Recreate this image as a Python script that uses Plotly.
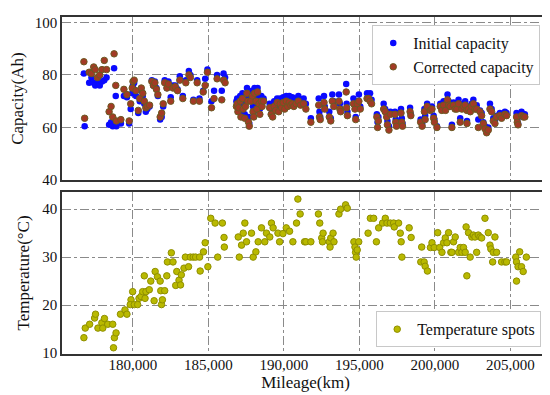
import plotly.graph_objects as go
from plotly.subplots import make_subplots

# ---- Capacity data (mileage km, initial Ah, corrected Ah) ----
cap_mileage = [
    176750, 176800, 177100, 177250, 177400, 177500, 177650, 177800, 177950, 178100,
    178250, 178420, 178550, 178660, 178750, 178860, 178900,
    179200, 179400, 179600, 179750, 179850, 179950, 180000, 180080, 180200, 180350,
    180450, 180550, 180650, 180750, 180850, 180950, 181100, 181250, 181350, 181450,
    181550, 181650, 181800, 181900, 182000, 182100, 182250, 182350, 182500, 182650,
    182800, 182950, 183100, 183300, 183500, 183700, 183800, 184000, 184250, 184400,
    184650, 184780, 184930, 185200, 185370, 185570, 185880, 186000, 186100,
    186850, 186900, 186950, 187000, 187100, 187150, 187250, 187300, 187400, 187450,
    187550, 187600, 187650, 187700, 187800, 187900, 187950, 188000, 188050, 188150,
    188200, 188250, 188350, 188400, 188500, 188550, 188650,
    189050, 189150, 189250, 189350, 189450, 189550, 189650, 189750, 189850, 189950,
    190050, 190150, 190250, 190350, 190450, 190550, 190650, 190800, 190950, 191100, 191300,
    191450, 191780, 192300, 192350, 192400, 192650, 192700, 193000, 193100, 193200,
    193300, 193640, 193700, 193750, 194120, 194150, 194200, 194600, 194700, 194750,
    194850, 194960, 195050, 195500, 195600, 195700, 195800, 196150, 196200, 196250,
    196600, 196700, 196800, 196850, 196950, 197050, 197350, 197400, 197450, 197750,
    197800, 197850, 198350, 198400, 199050, 199150, 199300, 199350,
    199480, 199690, 199800, 199910, 199960, 200130, 200350, 200450, 200570, 200700,
    200830, 200900, 201000, 201120, 201230, 201330, 201450, 201560, 201670, 201780,
    201890, 202000, 202110, 202120, 202230, 202340, 202430, 202540, 202650, 202760,
    202870, 202980, 203090, 203200, 203310, 203420, 203530, 203640, 203750, 203860,
    203970, 204080, 204300, 204410, 204630, 204740, 205400, 205450, 205500, 205730,
    205840, 205950,
]
cap_initial = [
    80.5, 60.5, 77, 79, 77, 76, 78, 76, 77.5, 78,
    79, 61, 62, 60.5, 82.5, 72, 60.5,
    61.5, 72, 71.5, 61.5, 67, 73, 76, 77, 72, 65.5,
    70, 74, 72, 69, 66, 67, 68, 78, 76, 77.5,
    75, 72, 63, 64, 68, 78, 75, 77.5, 71.5, 76,
    76, 74.5, 79.5, 72, 78, 81.5, 80, 70.5, 78, 71,
    74, 78.5, 82, 70, 74, 80, 74, 80.5, 79,
    70, 71, 68, 69, 72, 66, 73, 69, 65, 70,
    75, 71, 64, 61.5, 72, 74, 68, 66, 75, 72,
    69, 75, 71, 67, 72, 70, 71,
    69, 67, 66, 70, 68, 71, 68, 71, 69, 71.5,
    69, 72, 70, 72, 70, 71.5, 70, 71, 72, 70.5, 71,
    69, 63.5, 71, 66, 64, 72, 68, 66, 63.5, 72.5,
    70, 72.5, 69, 67, 76.5, 69, 66, 71, 68.5, 64,
    70, 72.5, 68, 73, 72.5, 73, 70.5, 65, 62, 64,
    69, 67, 66, 62.5, 60.5, 66, 66, 63, 61.5, 67,
    63.5, 61.5, 67.5, 65, 63, 61.5, 67, 64.5,
    69, 67.5, 68, 64.5, 63, 60.5, 69, 67.5, 70, 67.5,
    72.5, 70, 69, 61, 69.5, 68, 68, 70.5, 63.5, 68,
    69, 70, 67.5, 62.5, 68, 67, 69, 70.5, 68, 68.5,
    63, 66.5, 65.5, 62, 60.5, 58.5, 60, 69, 67, 63.5,
    62.5, 64.5, 65.5, 64.5, 66, 65.5, 65.5, 63, 61.5, 66,
    65, 65,
]
cap_corrected = [
    85, 63.5, 81, 80.5, 83, 82, 79, 80, 82, 85.5,
    82, 66, 68, 64, 88, 76, 62.5,
    63, 74.5, 72.5, 62.5, 69, 75, 77.5, 78, 74, 66.5,
    71, 75, 73, 70, 67.5, 68, 68.5, 77.5, 76, 77,
    74.5, 72.5, 64, 65.5, 69, 77, 75, 76.5, 70, 75,
    75.5, 74, 78, 71, 77, 80, 79, 70, 77, 70,
    73.5, 76, 81, 67.5, 71, 78.5, 70.5, 78, 77,
    68, 69, 66, 67.5, 70, 64, 71, 67, 63.5, 68,
    73, 70, 62, 60.5, 70, 72, 66, 64, 73, 70,
    67, 73.5, 69, 65, 70, 68, 70,
    67.5, 65, 64, 68, 66.5, 69.5, 66, 69, 67.5, 69.5,
    67, 70, 68, 69.5, 68.5, 69, 68, 69, 70, 68.5, 69,
    67, 62, 68.5, 64, 63, 69.5, 67, 64, 62.5, 70,
    68, 70, 67, 66, 73.5, 67.5, 64.5, 69, 67, 63,
    69, 70, 67, 71, 71, 70, 69, 64, 60, 62.5,
    67, 66, 64, 61, 59, 65, 65, 62, 60.5, 65.5,
    62, 60.5, 66, 64.5, 62, 60.5, 66, 63,
    68, 66.5, 67, 63.5, 62, 60, 68, 66.5, 68.5, 66.5,
    70.5, 68.5, 68, 60, 68.5, 67, 67, 69, 62, 67,
    68, 68.5, 66.5, 61.5, 67, 66, 68, 69, 67, 67,
    60, 66, 64.5, 61.5, 59.5, 58, 59, 67, 66, 62.5,
    61.5, 64, 64.5, 63.5, 65, 64.5, 64, 62, 61, 64.5,
    64, 64,
]

# ---- Temperature data (mileage km, temperature C) ----
temp_mileage = [
    176750, 176840, 177130, 177460, 177520, 177680, 177940, 178000, 178110, 178330,
    178660, 178710, 178770, 178880, 179170, 179470, 179600, 179870, 179820, 179980,
    180090, 180310, 180400, 180530, 180640, 180750, 180800, 180860, 181080, 181180,
    181400, 181470, 181620, 181800, 181840, 181890, 181950, 182100, 182240, 182280,
    182540, 182650, 182830, 182900, 183050, 183200, 183150, 183380, 183470, 183680,
    183800, 183990, 184150, 184410, 184450, 184670, 184780, 184960, 185150, 185440,
    185610, 185920, 186030, 186050, 186970, 187040, 187190, 187300, 187410, 187520,
    187850, 187960, 188140, 188290, 188510, 188730, 188840, 189060, 189170, 189280,
    189600, 189710, 189930, 190150, 190370, 190590, 190830, 190920, 191070, 191360,
    191450, 191780, 192280, 192370, 192500, 192550, 192590, 193000, 193050, 193100,
    193250, 193310, 193640, 193750, 194080, 194190, 194630, 194700, 194740, 194780,
    194850, 194950, 195570, 195720, 195940, 196120, 196270, 196530, 196710, 196820,
    197040, 197260, 197300, 197590, 197700, 197760, 197810, 198290, 198420, 199060,
    199120, 199280, 199350, 199500, 199700, 199800, 199950, 200180, 200310, 200460,
    200570, 200680, 200790, 200900, 201050, 201230, 201340, 201120, 201560, 201670,
    201780, 201890, 202000, 202110, 202060, 202220, 202330, 202440, 202540, 202760,
    202650, 202870, 202980, 203090, 203310, 203530, 203640, 203700, 203860, 203970,
    204080, 203820, 204410, 204630, 204740, 205350, 205400, 205500, 205400, 205610,
    205730, 205840, 206050,
]
temp_values = [
    13.2, 15.2, 16, 17.3, 18.1, 15.2, 16.3, 15.2, 17.2, 16,
    16, 11.1, 13.2, 14.2, 18.1, 19, 18.1, 21.1, 20.1, 22.8,
    20.1, 20.1, 21.4, 21.8, 22.8, 26.1, 21.4, 22.8, 23.2, 25,
    20.9, 27, 25.9, 25, 23, 20.1, 21.1, 23, 26.1, 29,
    30.9, 29, 24.1, 27, 25.2, 26.3, 24.2, 27.7, 30, 28,
    30, 30, 30, 30, 27.1, 31.1, 33, 28, 38.1, 37.1,
    30, 37.1, 34.1, 32.1, 34.2, 30, 32.5, 35, 37.1, 33.2,
    35, 30, 31.1, 33.2, 36.1, 33.2, 35, 34.2, 37.1, 36.1,
    35, 33.2, 34.9, 36.1, 35.4, 33.2, 37.1, 42.1, 39, 33.2,
    33.2, 33.2, 39, 37.1, 34, 33.2, 35, 33.2, 32.1, 34,
    35, 33.2, 39, 40, 40.9, 40.2, 33.2, 32.1, 31, 30,
    31.5, 33.2, 35, 38.1, 38.1, 33.2, 36.1, 37.1, 38.1, 37.1,
    37.1, 37.1, 36.3, 37.1, 35, 33.2, 30, 36.1, 34.1, 29,
    32.1, 29, 28.1, 27.1, 32, 33, 32, 35.1, 32, 31,
    33, 34, 33, 35.1, 31, 33.2, 34.2, 31, 31, 32,
    31, 32, 31, 26.1, 36.3, 35.1, 30, 34.2, 34.6, 31,
    34.2, 34.6, 34.2, 34, 38.1, 35.1, 32.5, 31.7, 31, 34.2,
    31, 29, 29, 29, 29, 30, 29, 28, 25, 31.1,
    28, 27, 30,
]

cap_ticks = [40, 60, 80, 100]
temp_ticks = [10, 20, 30, 40]
mileage_ticks = [180000, 185000, 190000, 195000, 200000, 205000]
mileage_labels = ["180,000", "185,000", "190,000", "195,000", "200,000", "205,000"]

FONT = "Liberation Serif"

fig = make_subplots(rows=2, cols=1, shared_xaxes=True, vertical_spacing=0.035)

fig.add_trace(go.Scatter(
    x=cap_mileage, y=cap_initial, mode="markers", name="Initial capacity",
    marker=dict(size=6.5, color="#0a0aff", line=dict(width=0)),
    legend="legend"), row=1, col=1)
fig.add_trace(go.Scatter(
    x=cap_mileage, y=cap_corrected, mode="markers", name="Corrected capacity",
    marker=dict(size=6.5, color="#a33a25", line=dict(width=1, color="#6b5a22")),
    legend="legend"), row=1, col=1)
fig.add_trace(go.Scatter(
    x=temp_mileage, y=temp_values, mode="markers", name="Temperature spots",
    marker=dict(size=6.5, color="#b9b900", line=dict(width=1, color="#8f8f00")),
    legend="legend2"), row=2, col=1)

axis_common = dict(
    showline=True, linecolor="#333333", linewidth=1.5, mirror=True,
    showgrid=True, gridcolor="#8a8a8a", gridwidth=1, griddash="dashdot",
    zeroline=False, ticks="", tickfont=dict(family=FONT, size=15, color="#111"),
)

fig.update_xaxes(**axis_common, range=[175300, 207550], tickvals=mileage_ticks,
                 ticktext=mileage_labels)
fig.update_xaxes(showticklabels=False, row=1, col=1)
fig.update_xaxes(ticklabelstandoff=-4,
                 title=dict(text="Mileage(km)", font=dict(family=FONT, size=17, color="#111"),
                            standoff=0), row=2, col=1)
fig.update_yaxes(**axis_common)
fig.update_yaxes(range=[40, 102], tickvals=cap_ticks,
                 title=dict(text="Capacity(Ah)", font=dict(family=FONT, size=17, color="#111"),
                            standoff=8), row=1, col=1)
fig.update_yaxes(range=[9.8, 43.6], tickvals=temp_ticks,
                 title=dict(text="Temperature(°C)", font=dict(family=FONT, size=17, color="#111"),
                            standoff=8), row=2, col=1)

fig.update_layout(
    width=550, height=395,
    margin=dict(l=52, r=7, t=7, b=49),
    paper_bgcolor="white", plot_bgcolor="white",
    showlegend=True,
    legend=dict(x=0.982, y=0.976, xanchor="right", yanchor="top",
                bgcolor="white", bordercolor="#c8c8c8", borderwidth=1,
                font=dict(family=FONT, size=16, color="#111")),
    legend2=dict(x=0.984, y=0.02, xanchor="right", yanchor="bottom",
                 bgcolor="white", bordercolor="#c8c8c8", borderwidth=1,
                 font=dict(family=FONT, size=16, color="#111")),
)
fig.update_layout(yaxis=dict(domain=[0.516, 1.0]), yaxis2=dict(domain=[0.0, 0.481]))

fig.write_html("out.html")
